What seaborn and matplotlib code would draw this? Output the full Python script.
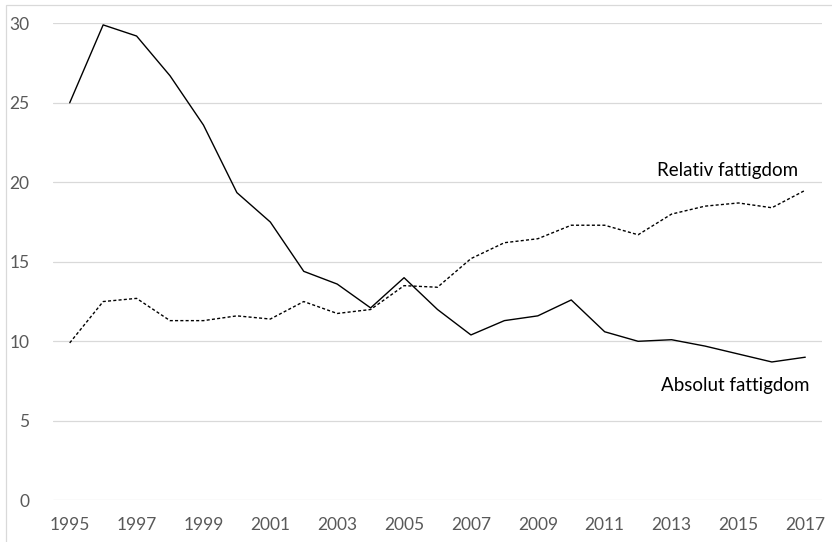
import pandas as pd
import matplotlib.pyplot as plt
import seaborn as sns
from matplotlib.patches import Rectangle

# Data
years = list(range(1995, 2018))
absolut = [25.0, 29.9, 29.2, 26.7, 23.6, 19.35, 17.5, 14.4, 13.6, 12.1, 14.0, 12.0,
           10.4, 11.3, 11.6, 12.6, 10.6, 10.0, 10.1, 9.7, 9.2, 8.7, 9.0]
relativ = [9.9, 12.5, 12.7, 11.3, 11.3, 11.6, 11.4, 12.5, 11.75, 12.0, 13.5, 13.4,
           15.2, 16.2, 16.45, 17.3, 17.3, 16.7, 18.0, 18.5, 18.7, 18.4, 19.5]
yticks = [0, 5, 10, 15, 20, 25, 30]
xticks = list(range(1995, 2018, 2))

df = pd.DataFrame({"year": years, "absolut": absolut, "relativ": relativ})

sns.set_style("white")
plt.rcParams["font.family"] = ["Lato", "DejaVu Sans"]

fig = plt.figure(figsize=(8.32, 5.42), dpi=100)
ax = fig.add_axes([53 / 832, 1 - 500.3 / 542, (822 - 53) / 832, (500.3 - 23.3) / 542])

sns.lineplot(data=df, x="year", y="absolut", ax=ax, color="black", linewidth=1.0)
sns.lineplot(data=df, x="year", y="relativ", ax=ax, color="black", linewidth=1.0,
             linestyle=(0, (2.2, 1.6)))

ax.set_xlim(1994.5, 2017.5)
ax.set_ylim(0, 30)
ax.set_xticks(xticks)
ax.set_yticks(yticks)
ax.yaxis.grid(True, color="#d9d9d9", linewidth=0.9)
ax.set_axisbelow(True)
ax.set_xlabel("")
ax.set_ylabel("")
for s in ax.spines.values():
    s.set_visible(False)
ax.tick_params(axis="both", length=0, labelsize=12.5, labelcolor="#595959")
ax.tick_params(axis="y", pad=17)
ax.tick_params(axis="x", pad=12)

ax.text(2016.78, 20.77, "Relativ fattigdom", ha="right", va="center", fontsize=13.5, color="black")
ax.text(2017.14, 7.25, "Absolut fattigdom", ha="right", va="center", fontsize=13.5, color="black")

# light chart-area border (cut off at right and bottom)
fig.patches.append(Rectangle((6 / 832, -0.1), 1.2, 1 - 5 / 542 + 0.1, transform=fig.transFigure,
                             fill=False, edgecolor="#d9d9d9", linewidth=0.9))

fig.savefig("out.png", dpi=100)
